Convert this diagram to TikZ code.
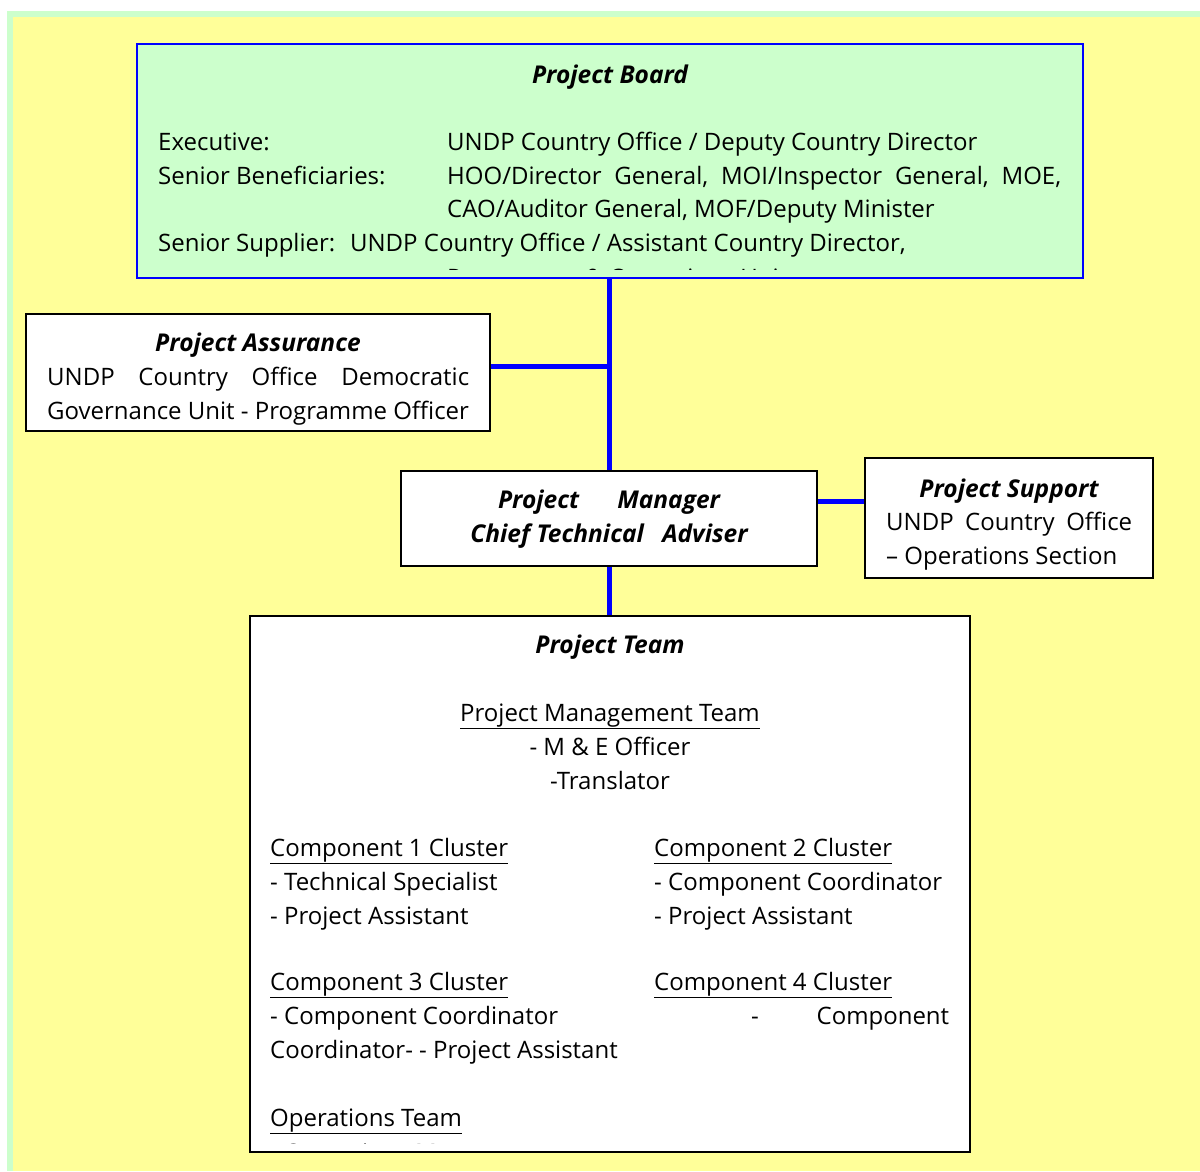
\documentclass[tikz,border=0pt]{standalone}
\usepackage{fontspec}
\setmainfont{Open Sans}
\definecolor{bgyellow}{HTML}{FFFF99}
\definecolor{bggreen}{HTML}{CCFFCC}
\definecolor{lineblue}{HTML}{0000FF}
\tikzset{
  box/.style={draw=black, line width=1.6pt, fill=white, rectangle, inner sep=0pt},
  boardbox/.style={draw=lineblue, line width=1.8pt, fill=bggreen, rectangle, inner sep=0pt},
  conn/.style={draw=lineblue, line width=5pt},
  txt/.style={anchor=base west, inner sep=0pt, yshift=-1pt, font=\fontsize{24}{33.5}\selectfont},
  ctxt/.style={anchor=base, inner sep=0pt, yshift=-1pt, font=\fontsize{24}{33.5}\selectfont},
  ttl/.style={anchor=base, inner sep=0pt, yshift=-1pt, font=\fontsize{24.5}{33.5}\selectfont\bfseries\itshape},
}
\begin{document}
\begin{tikzpicture}[x=1pt,y=-1pt]
\useasboundingbox (0,0) rectangle (1200,1171);
\fill[bggreen] (7,11) rectangle (1200,1171);
\fill[bgyellow] (13,17) rectangle (1200,1171);

% boxes
\node[boardbox, minimum width=946pt, minimum height=234pt] (board) at (610,161) {};
\node[box, minimum width=464pt, minimum height=117pt] (assur) at (258,372.5) {};
\node[box, minimum width=416pt, minimum height=95pt] (pm) at (609,518.5) {};
\node[box, minimum width=288pt, minimum height=120pt] (supp) at (1009,518) {};
\node[box, minimum width=720pt, minimum height=536pt] (team) at (610,884) {};

% connectors
\coordinate (j) at (609,366);
\coordinate (k) at (817,501);
\draw[conn] (board.south -| pm.north) -- (pm.north);
\draw[conn] (j -| assur.east) -- (j);
\draw[conn] (pm.east |- k) -- (supp.west |- k);
\draw[conn] (pm.south) -- (pm.south |- team.north);

% Project Board text
\node[ttl] (bt) at (610,82) {Project Board};
\node[txt] (b1a) at (158,149) {Executive:};
\node[txt] (b1b) at (447,149) {UNDP Country Office / Deputy Country Director};
\node[txt] (b2a) at (158,183) {Senior Beneficiaries:};
\node[txt] (b2b) at (447,183) {\hbox to 614pt{HOO/Director\hfill General,\hfill MOI/Inspector\hfill General,\hfill MOE,}};
\node[txt] (b3b) at (447,216) {CAO/Auditor General, MOF/Deputy Minister};
\node[txt] (b4a) at (158,250) {Senior Supplier:\hskip 0.62em UNDP Country Office / Assistant Country Director,};
\begin{scope}
\clip (140,46) rectangle (1080,269.5);
\node[txt] (b5b) at (447,285) {Programme \& Operations Unit};
\end{scope}

% Project Assurance text
\node[ttl] (at) at (258,350) {Project Assurance};
\node[txt] (a1) at (47,384) {\hbox to 422pt{UNDP\hfill Country\hfill Office\hfill Democratic}};
\node[txt] (a2) at (47,418) {Governance Unit - Programme Officer};

% Project Manager text
\node[ttl] (p1) at (609,507) {\hbox to 222pt{Project\hfill Manager}};
\node[ttl] (p2) at (609,541) {Chief Technical\hskip 0.75em Adviser};

% Project Support text
\node[ttl] (st) at (1009,496) {Project Support};
\node[txt] (s1) at (886,529) {\hbox to 246pt{UNDP\hfill Country\hfill Office}};
\node[txt] (s2) at (886,563) {– Operations Section};

% Project Team text
\node[ttl] (tt) at (610,652) {Project Team};
\node[ctxt] (m0) at (610,720) {\underline{Project Management Team}};
\node[ctxt] (m1) at (610,754) {- M \& E Officer};
\node[ctxt] (m2) at (610,788) {-Translator};

\node[txt] (c1) at (270,855) {\underline{Component 1 Cluster}};
\node[txt] (c1a) at (270,889) {- Technical Specialist};
\node[txt] (c1b) at (270,923) {- Project Assistant};
\node[txt] (c2) at (654,855) {\underline{Component 2 Cluster}};
\node[txt] (c2a) at (654,889) {- Component Coordinator};
\node[txt] (c2b) at (654,923) {- Project Assistant};

\node[txt] (c3) at (270,989) {\underline{Component 3 Cluster}};
\node[txt] (c3a) at (270,1023) {- Component Coordinator};
\node[txt] (c3b) at (270,1057) {Coordinator- - Project Assistant};
\node[txt] (c4) at (654,989) {\underline{Component 4 Cluster}};
\node[txt] (c4a) at (751,1023) {\hbox to 198pt{-\hfill Component}};

\node[txt] (o0) at (270,1125) {\underline{Operations Team}};
\begin{scope}
\clip (252,618) rectangle (968,1143);
\node[txt] (o1) at (270,1160) {- Operations Manager};
\end{scope}
\end{tikzpicture}
\end{document}
